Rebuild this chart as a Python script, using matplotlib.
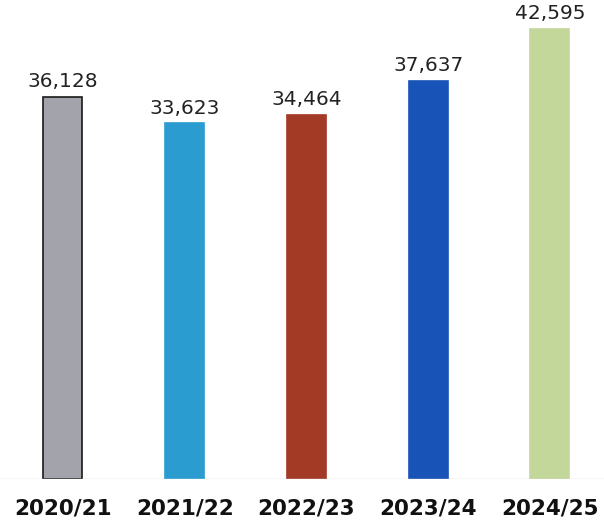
import numpy as np
import matplotlib.pyplot as plt

years = ["2020/21", "2021/22", "2022/23", "2023/24", "2024/25"]
values = [36128, 33623, 34464, 37637, 42595]
colors = ["#a3a3ab", "#2b9cd0", "#a23a26", "#1853b8", "#c3d79b"]
edges = ["#1a1a1a", "#2b9cd0", "#a23a26", "#1853b8", "#c3d79b"]

fig = plt.figure(figsize=(6.04, 5.24), dpi=100)
ax = fig.add_axes([0, 45 / 524, 1, 479 / 524])

x = np.arange(len(years))
bars = ax.bar(x, values, width=0.32, color=colors, edgecolor=edges, linewidth=1.2)

# value labels above each bar
for bar, v in zip(bars, values):
    ax.annotate(f"{v:,}", (bar.get_x() + bar.get_width() / 2, v),
                xytext=(0, 4), textcoords="offset points",
                ha="center", va="bottom", fontsize=14.5, color="#222222")

ax.axhline(0, color="#d8d8d8", linewidth=1)
ax.set_xlim(-0.517, 4.444)
ax.set_ylim(0, 45300)
ax.set_xticks(x)
ax.set_xticklabels(years, fontsize=15.5, fontweight="bold", color="#111111")
ax.tick_params(axis="x", length=0, pad=14)
ax.set_yticks([])
for s in ax.spines.values():
    s.set_visible(False)

fig.savefig("out.png", dpi=100)
